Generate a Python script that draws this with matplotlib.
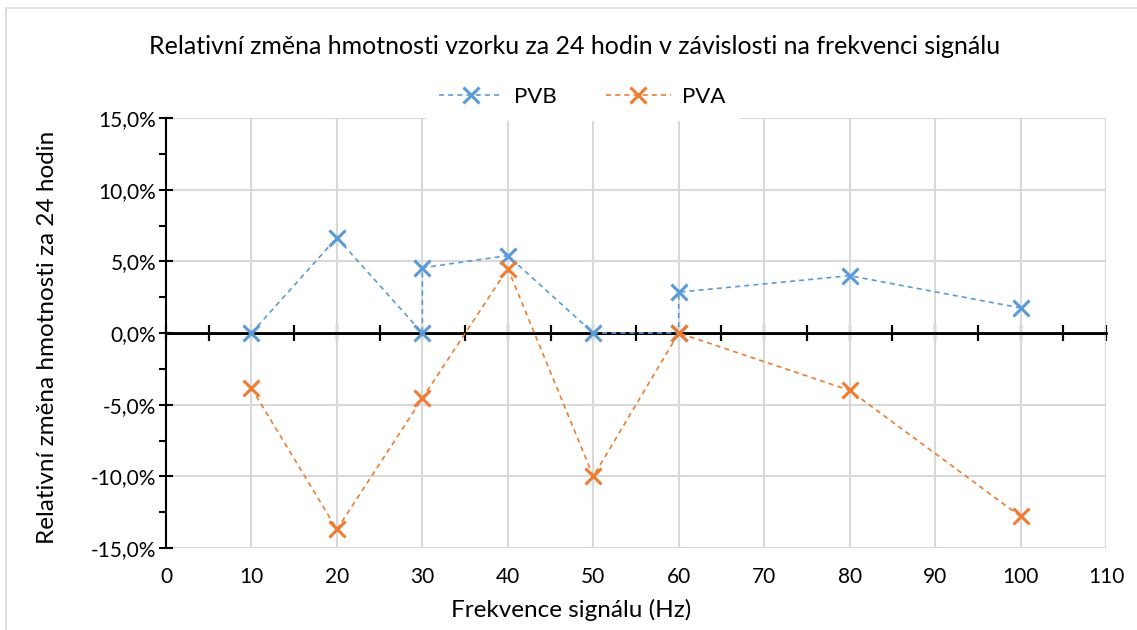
import numpy as np
import matplotlib.pyplot as plt
from matplotlib.ticker import MultipleLocator, FuncFormatter, NullFormatter
from matplotlib.patches import Rectangle

plt.rcParams['font.family'] = ['Lato', 'DejaVu Sans']

# frekvence (Hz) a relativni zmena hmotnosti (%)
pvb_freq = [10, 20, 30, 30, 40, 50, 60, 60, 80, 100]
pvb_change = [0.0, 6.65, 0.0, 4.55, 5.4, 0.0, 0.0, 2.85, 4.0, 1.75]

pva_freq = [10, 20, 30, 40, 50, 60, 80, 100]
pva_change = [-3.85, -13.7, -4.55, 4.5, -10.0, 0.0, -4.0, -12.8]

blue = '#5B9BD5'
orange = '#ED7D31'
grid_col = '#D9D9D9'

fig = plt.figure(figsize=(11.37, 6.3), dpi=100)
ax = fig.add_axes([166/1137, 82/630, 940/1137, 430/630])

# chart area border
fig.patches.append(Rectangle((6/1137, -0.1), 1.2, (630-8)/630 + 0.1, transform=fig.transFigure,
                             fill=False, edgecolor='#D9D9D9', linewidth=1.2, zorder=0))

line_kw = dict(linestyle=(0, (3, 2.5)), linewidth=1.2, marker='x', markersize=11,
               markeredgewidth=2.2, zorder=5)
ax.plot(pvb_freq, pvb_change, color=blue, label='PVB', **line_kw)
ax.plot(pva_freq, pva_change, color=orange, label='PVA', **line_kw)

ax.set_xlim(0, 110)
ax.set_ylim(-15, 15)
ax.xaxis.set_major_locator(MultipleLocator(10))
ax.yaxis.set_major_locator(MultipleLocator(5))
ax.yaxis.set_minor_locator(MultipleLocator(2.5))
ax.yaxis.set_major_formatter(FuncFormatter(lambda v, p: f'{v:.1f}%'.replace('.', ',')))

ax.grid(True, color=grid_col, linewidth=1.5, zorder=0)
ax.set_axisbelow(True)
for s in ['top', 'right', 'bottom']:
    ax.spines[s].set_visible(False)
ax.spines['left'].set_linewidth(1.5)
ax.tick_params(axis='x', length=0, labelsize=15, pad=14, colors='#000000')
ax.tick_params(axis='y', which='major', direction='inout', length=10, width=1.5, labelsize=15, pad=2)
ax.tick_params(axis='y', which='minor', direction='out', length=5, width=1.5)

# horizontal axis drawn at zero, labels stay at the bottom
ax.axhline(0, color='black', linewidth=2, zorder=3)
zero_ax = ax.secondary_xaxis(0.5)
zero_ax.xaxis.set_major_locator(MultipleLocator(10))
zero_ax.xaxis.set_minor_locator(MultipleLocator(5))
zero_ax.xaxis.set_major_formatter(NullFormatter())
zero_ax.tick_params(which='both', direction='inout', length=11, width=1.5,
                    top=True, bottom=True, labeltop=False, labelbottom=False)
for s in zero_ax.spines.values():
    s.set_linewidth(2)

ax.set_xlabel('Frekvence signálu (Hz)', fontsize=17.5)
ax.xaxis.set_label_coords((571 - 166) / 940, -0.118)
ax.set_ylabel('Relativní změna hmotnosti za 24 hodin', fontsize=17.5)
ax.yaxis.set_label_coords(-0.115, 0.49)
fig.text(575/1137, 1 - 46/630, 'Relativní změna hmotnosti vzorku za 24 hodin v závislosti na frekvenci signálu',
         ha='center', va='center', fontsize=18)

leg = fig.legend(loc='center', bbox_to_anchor=(582/1137, 1 - 97/630), ncol=2, fontsize=16,
                 frameon=True, fancybox=False, edgecolor='white', framealpha=1,
                 handlelength=2.9, handletextpad=0.5, columnspacing=2.2, borderpad=0.6)

fig.savefig('out.png', dpi=100)
